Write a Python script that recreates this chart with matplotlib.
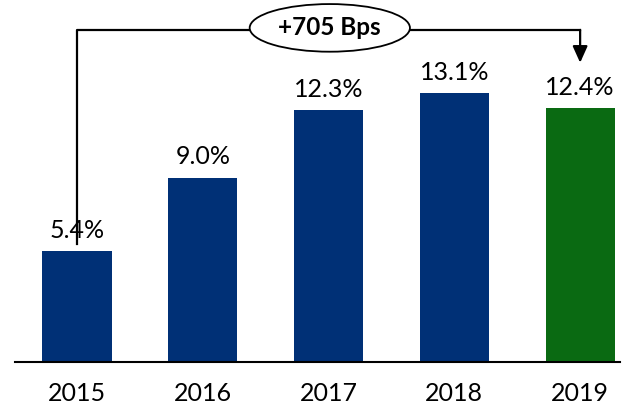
import matplotlib.pyplot as plt

# datos
years = ['2015', '2016', '2017', '2018', '2019']
values = [5.4, 9.0, 12.3, 13.1, 12.4]
labels = ['5.4%', '9.0%', '12.3%', '13.1%', '12.4%']
colors = ['#003076', '#003076', '#003076', '#003076', '#0a6a12']
change_label = '+705 Bps'

plt.rcParams['font.family'] = ['Lato', 'DejaVu Sans']

fig = plt.figure(figsize=(6.23, 4.05), dpi=100)
ax = fig.add_axes([0.024, 0.106, 0.971, 0.894])

x = list(range(len(years)))
ax.bar(x, values, width=0.55, color=colors)

# etiquetas sobre las barras
for xi, v, lab in zip(x, values, labels):
    ax.text(xi, v + 0.45, lab, ha='center', va='bottom', fontsize=18)

# flecha de cambio 2015 -> 2019
top = 16.2
ax.plot([x[0], x[0], x[-1]], [values[0] + 0.35, top, top], color='black', lw=1.6)
ax.annotate('', xy=(x[-1], 14.6), xytext=(x[-1], top),
            arrowprops=dict(arrowstyle='-|>,head_length=1.0,head_width=0.45',
                            color='black', lw=1.6, shrinkA=0, shrinkB=0))
ax.text(2.01, top + 0.1, change_label, ha='center', va='center', fontsize=17.5,
        fontweight='bold',
        bbox=dict(boxstyle='ellipse,pad=0.22', fc='white', ec='black', lw=1.3))

ax.set_xlim(-0.493, 4.316)
ax.set_ylim(0, 17.66)
ax.set_xticks(x)
ax.set_xticklabels(years, fontsize=18)
ax.tick_params(axis='x', length=0, pad=14)
ax.set_yticks([])
for s in ['top', 'right', 'left']:
    ax.spines[s].set_visible(False)
ax.spines['bottom'].set_linewidth(1.5)

fig.savefig('out.png', dpi=100)
